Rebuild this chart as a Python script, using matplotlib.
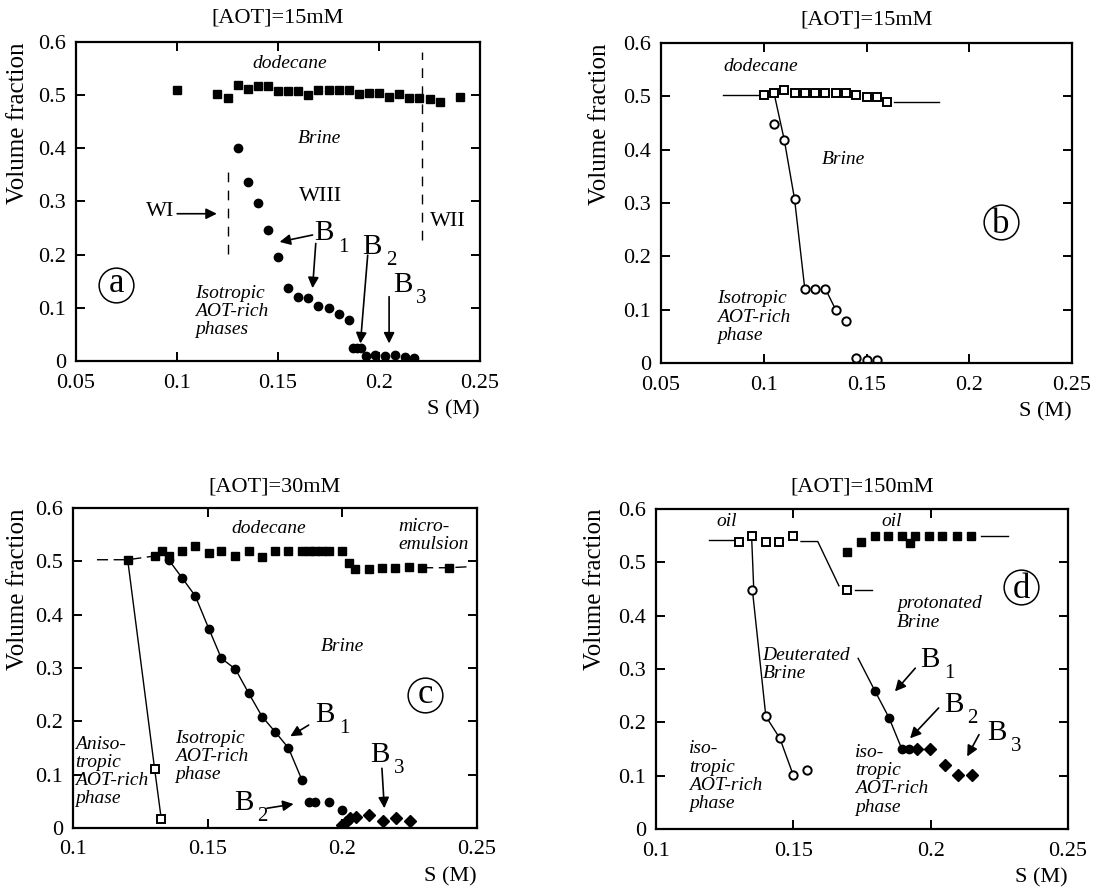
import matplotlib
matplotlib.use("Agg")
import matplotlib.pyplot as plt
from matplotlib.ticker import FixedLocator, FixedFormatter

plt.rcParams['font.family'] = ['Liberation Serif', 'DejaVu Serif']
plt.rcParams['mathtext.fontset'] = 'stix'

# ---------------- Panel a : [AOT]=15mM ----------------
a_sq_x = [0.100, 0.120, 0.125, 0.130, 0.135, 0.140, 0.145, 0.150, 0.155, 0.160, 0.165,
          0.170, 0.175, 0.180, 0.185, 0.190, 0.195, 0.200, 0.205, 0.210, 0.215, 0.220,
          0.225, 0.230, 0.240]
a_sq_y = [0.510, 0.503, 0.495, 0.519, 0.512, 0.518, 0.517, 0.508, 0.508, 0.508, 0.501,
          0.509, 0.509, 0.509, 0.509, 0.503, 0.504, 0.504, 0.497, 0.503, 0.495, 0.495,
          0.492, 0.487, 0.497]
a_ci_x = [0.130, 0.135, 0.140, 0.145, 0.150, 0.155, 0.160, 0.165, 0.170, 0.175, 0.180,
          0.185, 0.187, 0.189, 0.191, 0.1935, 0.198, 0.203, 0.208, 0.213, 0.2175]
a_ci_y = [0.400, 0.337, 0.297, 0.246, 0.196, 0.137, 0.121, 0.118, 0.103, 0.099, 0.088,
          0.077, 0.024, 0.024, 0.024, 0.010, 0.012, 0.010, 0.012, 0.008, 0.005]
a_bound_x = [0.125, 0.2215]          # WI/WIII and WIII/WII boundaries
a_bound_y0 = [0.202, 0.227]
a_bound_y1 = [0.362, 0.581]

# ---------------- Panel b : [AOT]=15mM ----------------
b_sq_x = [0.100, 0.105, 0.110, 0.115, 0.120, 0.125, 0.130, 0.135, 0.140, 0.145, 0.150,
          0.155, 0.160]
b_sq_y = [0.502, 0.506, 0.512, 0.506, 0.506, 0.506, 0.507, 0.507, 0.507, 0.503, 0.498,
          0.498, 0.489]
b_ci_x = [0.105, 0.110, 0.115, 0.120, 0.125, 0.130, 0.135, 0.140, 0.145, 0.150, 0.155]
b_ci_y = [0.448, 0.418, 0.307, 0.138, 0.138, 0.139, 0.100, 0.079, 0.010, 0.006, 0.005]
b_guide_left_x = [0.080, 0.0976]
b_guide_left_y = [0.503, 0.503]
b_guide_right_x = [0.1634, 0.1854]
b_guide_right_y = [0.489, 0.489]
b_guide_drop_x = [0.105, 0.110, 0.115, 0.120]
b_guide_drop_y = [0.506, 0.418, 0.307, 0.138]
b_guide_seg_x = [0.130, 0.135]
b_guide_seg_y = [0.139, 0.100]

# ---------------- Panel c : [AOT]=30mM ----------------
c_sq_x = [0.1203, 0.1303, 0.1330, 0.1355, 0.1405, 0.1454, 0.1504, 0.1551, 0.1603, 0.1652,
          0.1702, 0.1751, 0.1800, 0.1850, 0.1875, 0.1900, 0.1925, 0.1950, 0.1999, 0.2024,
          0.2048, 0.2098, 0.2147, 0.2197, 0.2246, 0.2296, 0.2395]
c_sq_y = [0.503, 0.510, 0.519, 0.510, 0.519, 0.529, 0.515, 0.519, 0.510, 0.519,
          0.508, 0.519, 0.519, 0.519, 0.519, 0.519, 0.519, 0.519, 0.519, 0.496,
          0.485, 0.485, 0.488, 0.488, 0.490, 0.488, 0.488]
c_ci_x = [0.1355, 0.1405, 0.1454, 0.1504, 0.1551, 0.1603, 0.1652, 0.1702, 0.1751, 0.1800,
          0.1850, 0.1875, 0.1900, 0.1950, 0.2000]
c_ci_y = [0.503, 0.469, 0.435, 0.374, 0.318, 0.298, 0.253, 0.209, 0.180, 0.150,
          0.090, 0.049, 0.049, 0.049, 0.034]
c_di_x = [0.2000, 0.2015, 0.2030, 0.2050, 0.2100, 0.2150, 0.2200, 0.2250]
c_di_y = [0.005, 0.012, 0.018, 0.020, 0.025, 0.014, 0.019, 0.014]
c_osq_x = [0.1303, 0.1328]
c_osq_y = [0.111, 0.016]
c_guide_left_x = [0.1089, 0.1203, 0.1303]
c_guide_left_y = [0.503, 0.503, 0.510]
c_guide_right_x = [0.2296, 0.2395, 0.2475]
c_guide_right_y = [0.488, 0.488, 0.490]
c_guide_aniso_x = [0.1203, 0.1303, 0.1328]
c_guide_aniso_y = [0.503, 0.111, 0.016]

# ---------------- Panel d : [AOT]=150mM ----------------
d_osq_x = [0.1302, 0.1351, 0.1400, 0.1449, 0.1500, 0.1697]
d_osq_y = [0.539, 0.550, 0.539, 0.539, 0.549, 0.448]
d_oci_x = [0.1351, 0.1400, 0.1451, 0.1500, 0.1550]
d_oci_y = [0.448, 0.211, 0.170, 0.1005, 0.110]
d_sq_x = [0.1697, 0.1748, 0.1797, 0.1846, 0.1895, 0.1923, 0.1944, 0.1993, 0.2042,
          0.2097, 0.2146]
d_sq_y = [0.520, 0.539, 0.549, 0.550, 0.549, 0.537, 0.549, 0.549, 0.549, 0.549, 0.549]
d_ci_x = [0.1797, 0.1848, 0.1895, 0.1920]
d_ci_y = [0.259, 0.209, 0.150, 0.150]
d_di_x = [0.1950, 0.1999, 0.2051, 0.2100, 0.2149]
d_di_y = [0.150, 0.150, 0.1205, 0.1005, 0.1005]
d_guide_left_x = [0.1192, 0.1284]
d_guide_left_y = [0.541, 0.541]
d_guide_drop_x = [0.1348, 0.1356]
d_guide_drop_y = [0.550, 0.448]
d_guide_oci_x = [0.1351, 0.1400, 0.1451, 0.1500]
d_guide_oci_y = [0.448, 0.211, 0.170, 0.1005]
d_guide_mid_x = [0.1528, 0.1589, 0.1666]
d_guide_mid_y = [0.539, 0.539, 0.456]
d_guide_stub_x = [0.1724, 0.1785]
d_guide_stub_y = [0.448, 0.448]
d_guide_right_x = [0.2182, 0.2280]
d_guide_right_y = [0.549, 0.549]
d_guide_ci_x = [0.1736, 0.1797, 0.1848, 0.1895, 0.1920]
d_guide_ci_y = [0.320, 0.259, 0.209, 0.150, 0.150]

x_ticks_ab = [0.05, 0.10, 0.15, 0.20, 0.25]
x_labels_ab = ['0.05', '0.1', '0.15', '0.2', '0.25']
x_ticks_cd = [0.10, 0.15, 0.20, 0.25]
x_labels_cd = ['0.1', '0.15', '0.2', '0.25']
y_ticks = [0, 0.1, 0.2, 0.3, 0.4, 0.5, 0.6]
y_labels = ['0', '0.1', '0.2', '0.3', '0.4', '0.5', '0.6']
panel_titles = ['[AOT]=15mM', '[AOT]=15mM', '[AOT]=30mM', '[AOT]=150mM']
panel_letters = ['a', 'b', 'c', 'd']

W, H = 1109, 891
fig = plt.figure(figsize=(W / 100, H / 100), dpi=100)


def make_ax(l, r, t, b):
    return fig.add_axes([l / W, 1 - b / H, (r - l) / W, (b - t) / H])


def style(ax, xlo, xticks, xlabels, title, title_y, ylab_x):
    ax.set_xlim(xlo, 0.25)
    ax.set_ylim(0, 0.6)
    ax.xaxis.set_major_locator(FixedLocator(xticks))
    ax.xaxis.set_major_formatter(FixedFormatter(xlabels))
    ax.yaxis.set_major_locator(FixedLocator(y_ticks))
    ax.yaxis.set_major_formatter(FixedFormatter(y_labels))
    ax.tick_params(direction='in', top=True, right=True, length=6.5, width=1.4,
                   labelsize=16)
    ax.tick_params(axis='x', pad=9)
    ax.tick_params(axis='y', pad=7)
    for s in ax.spines.values():
        s.set_linewidth(1.6)
    ax.text(ylab_x, 1.0, 'Volume fraction', transform=ax.transAxes, rotation=90,
            ha='center', va='top', fontsize=18)
    ax.text(0.5, title_y, title, transform=ax.transAxes, ha='center', va='center',
            fontsize=16)
    ax.text(1.0, -0.153, 'S (M)', transform=ax.transAxes, ha='right', va='center',
            fontsize=16)


def it(ax, x, y, s, ha='center', size=14):
    ax.text(x, y, s, ha=ha, va='center', fontsize=size, style='italic',
            linespacing=1.1)


def blab(ax, x, y, n):
    ax.text(x, y, 'B', ha='left', va='center', fontsize=21)
    ax.annotate(str(n), xy=(x, y), xytext=(17, -10), textcoords='offset points',
                ha='left', va='center', fontsize=15)


def arr(ax, tail, head):
    ax.annotate('', xy=head, xytext=tail,
                arrowprops=dict(arrowstyle='-|>', color='k', lw=1.2,
                                mutation_scale=16, shrinkA=0, shrinkB=0))


def circ(ax, x, y, s):
    ax.plot([x], [y], marker='o', ms=25, mfc='none', mec='k', mew=1.1, ls='none')
    drop = 8.3 if s in ('b', 'd') else 5.4
    ax.annotate(s, xy=(x, y), xytext=(0, -drop), textcoords='offset points',
                ha='center', va='baseline', fontsize=25)


FS = dict(ls='none', marker='s', ms=5.5, color='k')
FC = dict(ls='none', marker='o', ms=6, color='k')
OS = dict(ls='none', marker='s', ms=6.3, mfc='white', mec='k', mew=1.4)
OC = dict(ls='none', marker='o', ms=6, mfc='white', mec='k', mew=1.4)
DI = dict(ls='none', marker='D', ms=6.5, color='k')
GL = dict(color='k', lw=1.0)

# ---- a ----
ax = make_ax(76, 480, 42, 361)
style(ax, 0.05, x_ticks_ab, x_labels_ab, panel_titles[0], 1.075, -0.143)
ax.vlines(a_bound_x, a_bound_y0, a_bound_y1, colors='k', linestyles=(0, (7, 6)), lw=1.0)
ax.plot(a_sq_x, a_sq_y, **FS)
ax.plot(a_ci_x, a_ci_y, **FC)
it(ax, 0.1557, 0.559, 'dodecane')
it(ax, 0.1704, 0.418, 'Brine')
ax.text(0.1712, 0.309, 'WIII', ha='center', va='center', fontsize=16)
ax.text(0.0919, 0.281, 'WI', ha='center', va='center', fontsize=16)
arr(ax, (0.1001, 0.277), (0.1197, 0.277))
ax.text(0.2341, 0.262, 'WII', ha='center', va='center', fontsize=16)
blab(ax, 0.1679, 0.240, 1)
arr(ax, (0.1671, 0.237), (0.1508, 0.224))
arr(ax, (0.1687, 0.221), (0.1671, 0.137))
blab(ax, 0.1916, 0.215, 2)
arr(ax, (0.1944, 0.199), (0.1908, 0.033))
blab(ax, 0.2068, 0.143, 3)
arr(ax, (0.205, 0.121), (0.205, 0.033))
circ(ax, 0.0699, 0.143, panel_letters[0])
it(ax, 0.1088, 0.093, 'Isotropic\nAOT-rich\nphases', ha='left')

# ---- b ----
ax = make_ax(661, 1072, 43, 363)
style(ax, 0.05, x_ticks_ab, x_labels_ab, panel_titles[1], 1.072, -0.148)
ax.plot(b_guide_left_x, b_guide_left_y, **GL)
ax.plot(b_guide_right_x, b_guide_right_y, **GL)
ax.plot(b_guide_drop_x, b_guide_drop_y, **GL)
ax.plot(b_guide_seg_x, b_guide_seg_y, **GL)
ax.plot(b_sq_x, b_sq_y, **OS)
ax.plot(b_ci_x, b_ci_y, **OC)
it(ax, 0.0984, 0.556, 'dodecane')
it(ax, 0.139, 0.381, 'Brine')
it(ax, 0.0772, 0.086, 'Isotropic\nAOT-rich\nphase', ha='left')
circ(ax, 0.2155, 0.265, panel_letters[1])

# ---- c ----
ax = make_ax(73, 477, 508, 828)
style(ax, 0.10, x_ticks_cd, x_labels_cd, panel_titles[2], 1.066, -0.136)
ax.plot(c_guide_left_x, c_guide_left_y, color='k', lw=1.0, ls=(0, (8, 4)))
ax.plot(c_guide_right_x, c_guide_right_y, color='k', lw=1.0, ls=(0, (8, 4)))
ax.plot(c_guide_aniso_x, c_guide_aniso_y, **GL)
ax.plot(c_ci_x[:11], c_ci_y[:11], **GL)
ax.plot(c_sq_x, c_sq_y, **FS)
ax.plot(c_ci_x, c_ci_y, **FC)
ax.plot(c_di_x, c_di_y, **DI)
ax.plot(c_osq_x, c_osq_y, **OS)
it(ax, 0.1726, 0.561, 'dodecane')
it(ax, 0.2209, 0.548, 'micro-\nemulsion', ha='left')
it(ax, 0.1999, 0.340, 'Brine')
circ(ax, 0.2308, 0.249, panel_letters[2])
blab(ax, 0.190, 0.212, 1)
arr(ax, (0.1875, 0.193), (0.1807, 0.172))
blab(ax, 0.1597, 0.047, 2)
arr(ax, (0.172, 0.037), (0.1819, 0.045))
blab(ax, 0.2104, 0.137, 3)
arr(ax, (0.2147, 0.112), (0.2156, 0.037))
it(ax, 0.1009, 0.106, 'Aniso-\ntropic\nAOT-rich\nphase', ha='left')
it(ax, 0.138, 0.134, 'Isotropic\nAOT-rich\nphase', ha='left')

# ---- d ----
ax = make_ax(656, 1068, 509, 829)
style(ax, 0.10, x_ticks_cd, x_labels_cd, panel_titles[3], 1.07, -0.148)
for gx, gy in [(d_guide_left_x, d_guide_left_y), (d_guide_drop_x, d_guide_drop_y),
               (d_guide_oci_x, d_guide_oci_y), (d_guide_mid_x, d_guide_mid_y),
               (d_guide_stub_x, d_guide_stub_y), (d_guide_right_x, d_guide_right_y),
               (d_guide_ci_x, d_guide_ci_y)]:
    ax.plot(gx, gy, **GL)
ax.plot(d_osq_x, d_osq_y, **OS)
ax.plot(d_oci_x, d_oci_y, **OC)
ax.plot(d_sq_x, d_sq_y, **FS)
ax.plot(d_ci_x, d_ci_y, **FC)
ax.plot(d_di_x, d_di_y, **DI)
it(ax, 0.1259, 0.576, 'oil')
it(ax, 0.1858, 0.576, 'oil')
it(ax, 0.1877, 0.405, 'protonated\nBrine', ha='left')
circ(ax, 0.2329, 0.4545, panel_letters[3])
it(ax, 0.1388, 0.308, 'Deuterated\nBrine', ha='left')
it(ax, 0.1119, 0.0986, 'iso-\ntropic\nAOT-rich\nphase', ha='left')
it(ax, 0.1724, 0.0924, 'iso-\ntropic\nAOT-rich\nphase', ha='left')
blab(ax, 0.1962, 0.317, 1)
arr(ax, (0.1944, 0.3016), (0.187, 0.258))
blab(ax, 0.2048, 0.233, 2)
arr(ax, (0.2029, 0.227), (0.1925, 0.170))
blab(ax, 0.2207, 0.180, 3)
arr(ax, (0.2176, 0.177), (0.2133, 0.136))

fig.savefig('out.png', dpi=100, facecolor='white')
